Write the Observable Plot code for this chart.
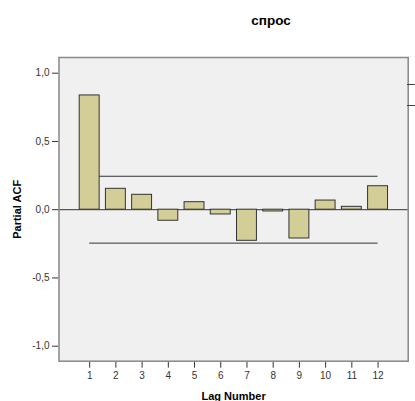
<!DOCTYPE html>
<html>
<head>
<meta charset="utf-8">
<script src="https://cdn.jsdelivr.net/npm/d3@7"></script>
<script src="https://cdn.jsdelivr.net/npm/@observablehq/plot@0.6"></script>
<style>
  html, body { margin: 0; padding: 0; background: #fff; overflow: hidden; }
  #wrap { position: relative; width: 415px; height: 401px; overflow: hidden; font-family: "Liberation Sans", Arial, sans-serif; }
  #title { position: absolute; top: 13px; left: 271px; transform: translateX(-50%); font-size: 13.5px; line-height: 16px; font-weight: bold; color: #000; white-space: nowrap; }
  #chart { position: absolute; top: 30px; left: 0; }
  #legend { position: absolute; left: 407px; top: 74px; }
  #legend .item { display: flex; align-items: center; height: 21px; }
  #legend .sw { width: 14px; height: 0; border-top: 1.5px solid #444; }
  g[aria-label="x-axis label"] text, g[aria-label="y-axis label"] text { font-weight: bold; font-size: 11px; fill: #000; }
</style>
</head>
<body>
<div id="wrap">
  <div id="title">спрос</div>
  <div id="chart"></div>
  <div id="legend">
    <div class="item"><span class="sw"></span></div>
    <div class="item"><span class="sw"></span></div>
  </div>
</div>
<script>
const lags = [1, 2, 3, 4, 5, 6, 7, 8, 9, 10, 11, 12];
const pacf = [0.837, 0.153, 0.109, -0.081, 0.055, -0.035, -0.228, -0.013, -0.211, 0.067, 0.021, 0.172];
const confLimit = 0.245;
const yTicks = [-1, -0.5, 0, 0.5, 1];
const yTickLabels = ["-1,0", "-0,5", "0,0", "0,5", "1,0"];

const data = lags.map((lag, i) => ({lag, pacf: pacf[i]}));
const halfWidth = 0.38;

const chart = Plot.plot({
  width: 415,
  height: 375,
  marginLeft: 58.5,
  marginRight: 7.3,
  marginTop: 27,
  marginBottom: 44.3,
  style: {fontFamily: "'Liberation Sans', Arial, sans-serif", fontSize: "10px", color: "#333", background: "transparent", overflow: "visible"},
  x: {domain: [-0.17, 13.15], ticks: lags, tickFormat: d => String(d), tickSize: 7, tickPadding: 4,
      label: "Lag Number", labelAnchor: "center", labelOffset: 38.5, labelArrow: "none"},
  y: {domain: [-1.11, 1.115], ticks: yTicks, tickFormat: d => yTickLabels[yTicks.indexOf(d)], tickSize: 6.5, tickPadding: 3,
      label: "Partial ACF", labelAnchor: "center", labelOffset: 46, labelArrow: "none"},
  marks: [
    Plot.frame({fill: "#f0f0f0"}),
    Plot.ruleY([0], {stroke: "#333", strokeWidth: 1}),
    Plot.ruleY([confLimit, -confLimit], {x1: lags[0], x2: lags[lags.length - 1], stroke: "#333", strokeWidth: 1}),
    Plot.rectY(data, {x1: d => d.lag - halfWidth, x2: d => d.lag + halfWidth, y: "pacf", fill: "#d3ce97", stroke: "#333", strokeWidth: 1}),
    Plot.frame({stroke: "#888", strokeWidth: 1.5})
  ]
});
document.getElementById("chart").appendChild(chart);
</script>
</body>
</html>
